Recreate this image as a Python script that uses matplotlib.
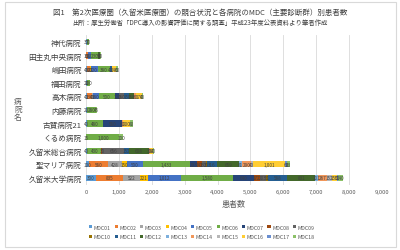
import matplotlib
matplotlib.use("Agg")
import matplotlib.pyplot as plt
from matplotlib.patches import Rectangle
import numpy as np

plt.rcParams['font.family'] = ['Noto Sans CJK JP', 'DejaVu Sans']

# Hospitals, bottom to top
hospitals = ['久留米大学病院', '聖マリア病院', '久留米総合病院', 'くるめ病院', '古賀病院21',
             '内藤病院', '高木病院', '福田病院', '嶋田病院', '田主丸中央病院', '神代病院']

mdc_names = ['MDC01', 'MDC02', 'MDC03', 'MDC04', 'MDC05', 'MDC06', 'MDC07', 'MDC08', 'MDC09',
             'MDC10', 'MDC11', 'MDC12', 'MDC13', 'MDC14', 'MDC15', 'MDC16', 'MDC17', 'MDC18']

# values per hospital, MDC01..MDC18
kurume_univ = [300, 835, 522, 221, 1012, 1580, 640, 172, 203, 51, 588, 831, 101, 267, 152, 150, 51, 140]
st_maria = [100, 560, 428, 150, 500, 1433, 203, 142, 132, 30, 316, 659, 81, 290, 40, 1001, 60, 83]
kurume_general = [40, 0, 0, 0, 0, 430, 0, 30, 656, 0, 152, 608, 0, 30, 0, 80, 0, 40]
kurume_hosp = [15, 0, 0, 0, 0, 1000, 0, 0, 0, 0, 0, 0, 0, 0, 0, 0, 0, 100]
koga21 = [40, 0, 0, 0, 0, 480, 560, 0, 0, 0, 0, 0, 0, 60, 0, 200, 0, 80]
naito = [20, 0, 0, 0, 0, 280, 0, 0, 0, 0, 0, 0, 0, 0, 0, 0, 0, 45]
takagi = [40, 130, 40, 0, 180, 500, 120, 0, 160, 0, 150, 150, 0, 60, 0, 170, 0, 40]
fukuda = [20, 0, 0, 0, 0, 100, 0, 0, 0, 0, 0, 0, 0, 0, 0, 0, 0, 0]
shimada = [40, 80, 0, 20, 220, 380, 0, 0, 0, 0, 40, 0, 0, 0, 0, 140, 0, 60]
tanushimaru = [10, 60, 0, 0, 80, 230, 0, 0, 0, 0, 0, 50, 0, 0, 0, 0, 0, 40]
kumashiro = [30, 0, 0, 0, 0, 70, 0, 0, 0, 0, 0, 0, 0, 0, 0, 0, 0, 0]

x_ticks = [0, 1000, 2000, 3000, 4000, 5000, 6000, 7000, 8000, 9000]

colors = ['#5B9BD5', '#ED7D31', '#A5A5A5', '#FFC000', '#4472C4', '#70AD47', '#264478', '#9E480E',
          '#636363', '#997300', '#255E91', '#43682B', '#7CAFDD', '#F1975A', '#B7B7B7', '#FFCD33',
          '#698ED0', '#8CC168']

table = np.array([kurume_univ, st_maria, kurume_general, kurume_hosp, koga21, naito,
                  takagi, fukuda, shimada, tanushimaru, kumashiro], dtype=float)

fig = plt.figure(figsize=(4.0, 2.51), dpi=100)
ax = fig.add_axes([0.215, 0.26, 0.74, 0.596])

y = np.arange(len(hospitals))
left = np.zeros(len(hospitals))
handles = []
for j, name in enumerate(mdc_names):
    vals = table[:, j]
    bars = ax.barh(y, vals, left=left, height=0.45, color=colors[j], label=name, linewidth=0)
    labels = [f'{int(v):,}' if v > 0 else '' for v in vals]
    ax.bar_label(bars, labels=labels, label_type='center', fontsize=3.3, color='#404040')
    handles.append(bars)
    left += vals

ax.set_xlim(0, 9000)
ax.set_ylim(-0.5, len(hospitals) - 0.5)
ax.set_xticks(x_ticks)
ax.set_xticklabels([f'{t:,}' for t in x_ticks], fontsize=4.2, color='#595959')
ax.set_yticks(y)
ax.set_yticklabels(hospitals, fontsize=5.5, color='#404040')
ax.tick_params(axis='both', length=0, pad=3)
ax.grid(axis='x', color='#D9D9D9', linewidth=0.6)
ax.set_axisbelow(True)
for s in ax.spines.values():
    s.set_visible(False)

ax.set_xlabel('患者数', fontsize=5.8, color='#595959', labelpad=4)
fig.text(0.045, 0.56, '病\n院\n名', fontsize=5.5, color='#595959', ha='center', va='center',
         linespacing=1.0)

fig.text(0.5, 0.948, '図1　第2次医療圏（久留米医療圏）の競合状況と各病院のMDC（主要診断群）別患者数',
         fontsize=5.4, color='#404040', ha='center', va='center')
fig.text(0.5, 0.908, '出所：厚生労働省「DPC導入の影響評価に関する調査」平成23年度公表資料より筆者作成',
         fontsize=4.6, color='#404040', ha='center', va='center')

order = []
for c in range(9):
    order += [c, c + 9]
leg = fig.legend([handles[i] for i in order], [mdc_names[i] for i in order], ncol=9,
                 loc='center', bbox_to_anchor=(0.505, 0.072), frameon=False, fontsize=3.8,
                 handlelength=0.6, handleheight=0.6, handletextpad=0.3, columnspacing=0.7,
                 labelspacing=0.9, labelcolor='#595959')

fig.patches.append(Rectangle((0.0125, 0.012), 0.978, 0.975, transform=fig.transFigure,
                             fill=False, edgecolor='#D9D9D9', linewidth=0.8))

fig.savefig('out.png', dpi=100)
